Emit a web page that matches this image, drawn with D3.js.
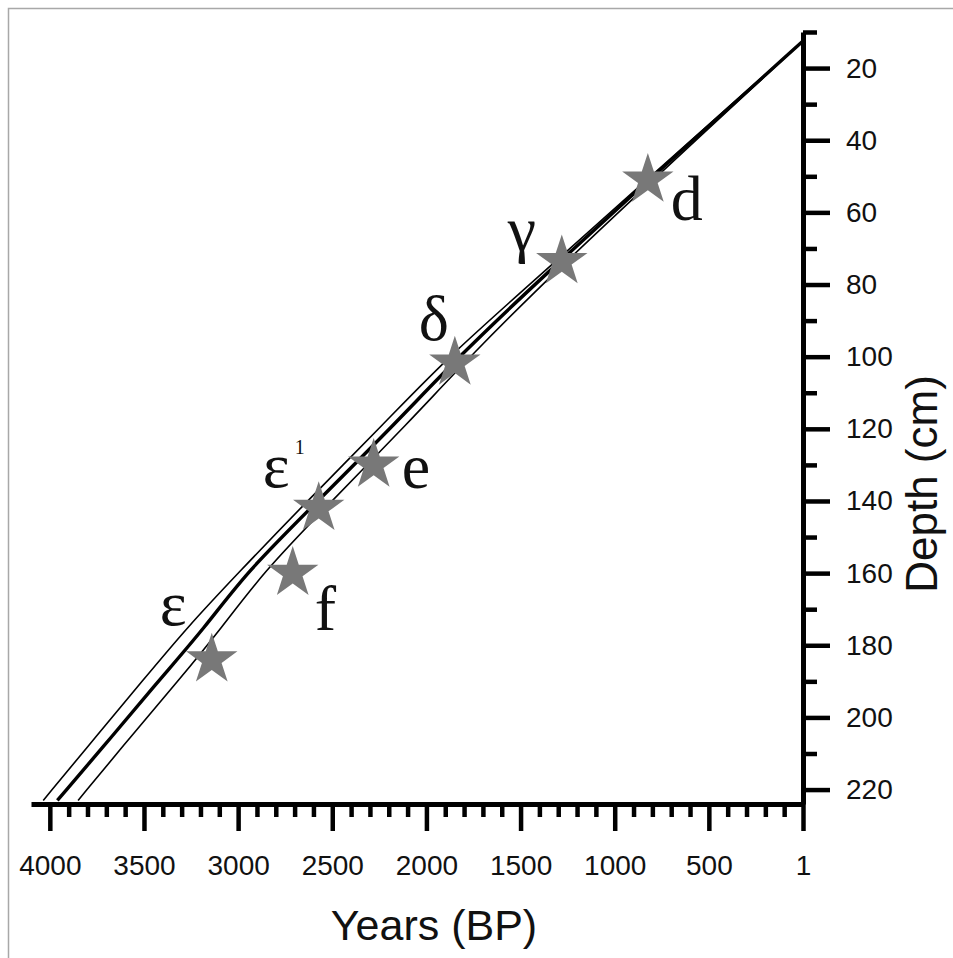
<!DOCTYPE html>
<html>
<head>
<meta charset="utf-8">
<script src="https://cdn.jsdelivr.net/npm/d3@7.9.0/dist/d3.min.js"></script>
<style>
  body { margin: 0; background: #fff; }
  svg { display: block; }
  .tick text { font-family: "Liberation Sans", Arial, sans-serif; }
</style>
</head>
<body>
<svg id="chart" width="953" height="958"></svg>
<script>
// age-depth model (depth in cm, age in years BP)
const modelDepth = [12.5, 40, 76, 100, 118, 142, 160, 175, 190, 205, 223];
const ageMedian  = [0, 585, 1345, 1830, 2155, 2615, 2960, 3175, 3425, 3665, 3960];
const ageOlder   = [0, 595, 1365, 1885, 2215, 2670, 3000, 3270, 3510, 3750, 4035];
const ageYounger = [0, 570, 1310, 1770, 2090, 2540, 2870, 3085, 3320, 3565, 3850];

// dated horizons (stars)
const horizonName  = ["d", "γ", "δ", "e", "ε", "f", "ε"];
const horizonSup   = ["", "", "", "", "1", "", ""];
const horizonAge   = [824, 1281, 1849, 2280, 2572, 2710, 3140];
const horizonDepth = [51, 73.6, 101.7, 130, 142, 160, 184];

// ticks
const yearMajor = [4000, 3500, 3000, 2500, 2000, 1500, 1000, 500, 0];
const yearMajorLabel = ["4000", "3500", "3000", "2500", "2000", "1500", "1000", "500", "1"];
const depthMajor = [20, 40, 60, 80, 100, 120, 140, 160, 180, 200, 220];
const depthMinor = [10, 30, 50, 70, 90, 110, 130, 150, 170, 190, 210];

// label placement relative to each star
const labelOffset = [[23, 40], [-54, -11], [-36, -23], [28, 23], [-56, -21], [22, 57], [-52, -35]];

const svg = d3.select("#chart");

svg.append("rect")
  .attr("x", 8.5).attr("y", 8.5)
  .attr("width", 1000).attr("height", 1000)
  .attr("fill", "#fff")
  .attr("stroke", "#a8a8a8")
  .attr("stroke-width", 1.5);

const x = d3.scaleLinear().domain([4100, 0]).range([31, 803]);
const y = d3.scaleLinear().domain([10, 224]).range([32, 804]);

const path = d3.line()
  .x(d => x(d[0]))
  .y(d => y(d[1]))
  .curve(d3.curveBasis);

function series(ages) {
  return ages.map((a, i) => [a, modelDepth[i]]);
}

const curves = svg.append("g").attr("fill", "none").attr("stroke", "#000");
curves.append("path").attr("d", path(series(ageOlder))).attr("stroke-width", 1.6);
curves.append("path").attr("d", path(series(ageYounger))).attr("stroke-width", 1.6);
curves.append("path").attr("d", path(series(ageMedian))).attr("stroke-width", 3.4);

// x axis
const minorYears = d3.range(0, 4001, 100).filter(v => v % 500 !== 0);

svg.append("g")
  .attr("transform", `translate(0,${y(224)})`)
  .call(d3.axisBottom(x).tickValues(minorYears).tickSize(13).tickSizeOuter(0).tickFormat(""));

const xMajor = svg.append("g")
  .attr("transform", `translate(0,${y(224)})`)
  .call(d3.axisBottom(x).tickValues(yearMajor).tickSize(27).tickPadding(24)
    .tickFormat((d, i) => yearMajorLabel[i]));
xMajor.select(".domain").remove();

// y axis
svg.append("g")
  .attr("transform", `translate(${x(0)},0)`)
  .call(d3.axisRight(y).tickValues(depthMinor).tickSize(14).tickSizeOuter(0).tickFormat(""));

const yMajor = svg.append("g")
  .attr("transform", `translate(${x(0)},0)`)
  .call(d3.axisRight(y).tickValues(depthMajor).tickSize(27).tickPadding(16));
yMajor.select(".domain").remove();

svg.selectAll(".domain").attr("stroke-width", 5).attr("stroke", "#000");
svg.selectAll(".tick line").attr("stroke-width", 4.5).attr("stroke", "#000");
svg.selectAll(".tick text").attr("font-size", 28).attr("fill", "#111");

// stars
const star = d3.symbol().type(d3.symbolStar).size(27 * 27 / 0.8908130915292852);

svg.append("g").selectAll("path")
  .data(horizonAge)
  .join("path")
  .attr("d", star)
  .attr("transform", (d, i) => `translate(${x(d)},${y(horizonDepth[i])})`)
  .attr("fill", "#787878");

const labels = svg.append("g")
  .attr("font-family", "'Liberation Serif', 'Times New Roman', serif")
  .attr("font-size", 64)
  .attr("fill", "#111");

horizonName.forEach((name, i) => {
  const px = x(horizonAge[i]) + labelOffset[i][0];
  const py = y(horizonDepth[i]) + labelOffset[i][1];
  labels.append("text").attr("x", px).attr("y", py).text(name);
  if (horizonSup[i]) {
    labels.append("text")
      .attr("x", px + 32).attr("y", py - 33)
      .attr("font-size", 20)
      .text(horizonSup[i]);
  }
});

// axis titles
svg.append("text")
  .attr("x", 434).attr("y", 940)
  .attr("text-anchor", "middle")
  .attr("font-family", "'Liberation Sans', Arial, sans-serif")
  .attr("font-size", 43)
  .attr("fill", "#111")
  .text("Years (BP)");

svg.append("text")
  .attr("transform", "translate(937,484) rotate(-90)")
  .attr("text-anchor", "middle")
  .attr("font-family", "'Liberation Sans', Arial, sans-serif")
  .attr("font-size", 44)
  .attr("fill", "#111")
  .text("Depth (cm)");
</script>
</body>
</html>
